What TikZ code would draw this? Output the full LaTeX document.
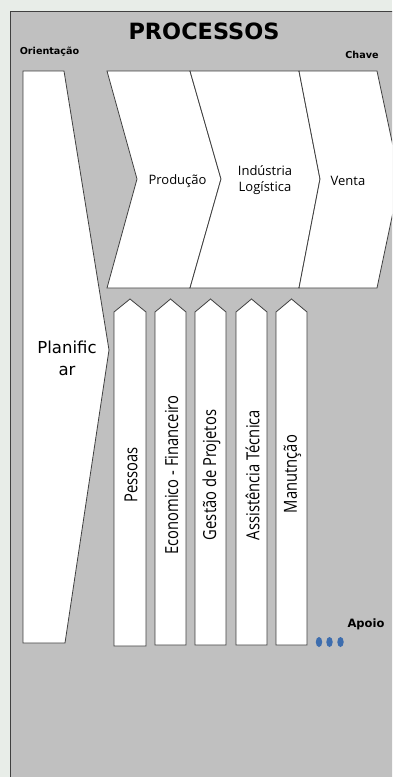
\documentclass[tikz,border=0pt]{standalone}
\usepackage{graphicx}
\usepackage{fontspec}
\setmainfont{DejaVu Sans}
\newfontfamily\opensans{Open Sans}
\usepackage{tikz}
\usetikzlibrary{calc}
\definecolor{Mist}{HTML}{E8EDE8}
\definecolor{Panel}{HTML}{C0C0C0}
\definecolor{Edge}{HTML}{404040}
\definecolor{DotBlue}{HTML}{3D6DAE}
\newcommand{\lbl}[1]{\scalebox{0.82}[1]{#1}}

\begin{document}
\begin{tikzpicture}[x=1pt,y=-1pt,
    shapebox/.style={draw=Edge,line width=0.8pt,fill=white},
    tagtext/.style={font=\bfseries\fontsize{9.6}{11}\selectfont,inner sep=0pt},
    steptext/.style={font=\opensans\fontsize{13}{16}\selectfont,align=center,inner sep=0pt},
    suptext/.style={font=\opensans\fontsize{18}{20}\selectfont,rotate=90,inner sep=0pt}]
    \useasboundingbox (0,0) rectangle (392,777);
    \fill[Mist] (0,0) rectangle (392,777);
    \begin{scope}
    \clip (0,0) rectangle (392,777);
    \draw[draw=Edge,line width=0.8pt,fill=Panel] (10,800) -- (10,11) -- (420,11) -- (420,800) -- cycle;

    % orientacao
    \draw[shapebox] (23,71) -- (64,71) -- (109,350) -- (65,643) -- (23,643) -- cycle;

    % chave
    \draw[shapebox] (107,71) -- (190,71) -- (221,179) -- (190,288) -- (107,288) -- (137,179) -- cycle;
    \draw[shapebox] (190,71) -- (299,71) -- (320,179) -- (299,288) -- (190,288) -- (221,179) -- cycle;
    \draw[shapebox] (299,71) -- (377,71) -- (400,179) -- (377,288) -- (299,288) -- (320,179) -- cycle;

    % apoio
    \draw[shapebox] (114,646) -- (114,312) -- (130,299) -- (146,312) -- (146,646) -- cycle;
    \draw[shapebox] (155,645) -- (155,312) -- (170.5,299) -- (186,312) -- (186,645) -- cycle;
    \draw[shapebox] (195,645) -- (195,312) -- (210.5,299) -- (226,312) -- (226,645) -- cycle;
    \draw[shapebox] (236,645) -- (236,312) -- (251.5,299) -- (267,312) -- (267,645) -- cycle;
    \draw[shapebox] (276,645) -- (276,312) -- (291.5,299) -- (307,312) -- (307,645) -- cycle;
    \end{scope}

    \node[font=\bfseries\fontsize{22.4}{26}\selectfont,inner sep=0pt] (title) at (204,31) {PROCESSOS};
    \node[tagtext] (orient) at (49.5,52) {Orientação};
    \node[tagtext] (chave) at (362,55) {Chave};
    \node[font=\bfseries\fontsize{11.5}{13}\selectfont,inner sep=0pt] (apoio) at (366,624) {Apoio};

    \node[font=\fontsize{16.5}{22}\selectfont,align=center,inner sep=0pt] (plan) at (67,358) {Planific\\ar};

    \node[steptext] (prod) at (177.5,181) {Produção};
    \node[steptext] (indl) at (265,180) {Indústria\\Logística};
    \node[steptext] (venta) at (348,181) {Venta};

    \node[suptext] (pess) at (131,475) {\lbl{Pessoas}};
    \node[suptext] (econ) at (171.5,475) {\lbl{Economico - Financeiro}};
    \node[suptext] (gest) at (211.5,475) {\lbl{Gestão de Projetos}};
    \node[suptext] (assi) at (252.5,475) {\lbl{Assistência Técnica}};
    \node[suptext] (manu) at (292.5,474) {\lbl{Manutnção}};

    \fill[DotBlue] (319,642) ellipse (3.2 and 5);
    \fill[DotBlue] (329.5,642) ellipse (3.2 and 5);
    \fill[DotBlue] (340.5,642) ellipse (3.2 and 5);
\end{tikzpicture}
\end{document}
